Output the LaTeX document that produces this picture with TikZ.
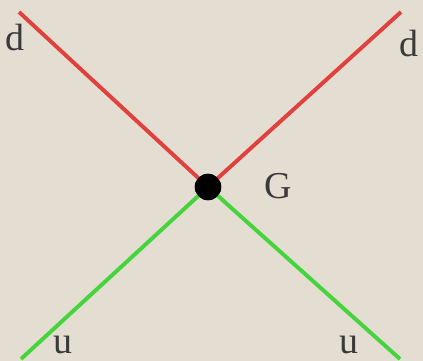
\documentclass[tikz,border=0pt]{standalone}
\usepackage{fontspec}
\setmainfont{Liberation Serif}
\usepackage{xcolor}
\usetikzlibrary{positioning}

\definecolor{paper}{HTML}{E4DED2}
\definecolor{quarkred}{HTML}{E0403E}
\definecolor{quarkgreen}{HTML}{46D43C}
\definecolor{labelgray}{HTML}{3A3A3A}

\begin{document}
\begin{tikzpicture}[
  x=0.025cm, y=-0.025cm,
  vertex/.style={circle, fill=black, inner sep=0pt, minimum size=0.66cm},
  dline/.style={quarkred, line width=2.8pt},
  uline/.style={quarkgreen, line width=2.8pt},
  lbl/.style={text=labelgray, font=\fontsize{27}{30}\selectfont, inner sep=0pt},
]
  \fill[paper] (0,0) rectangle (423,361);
  \useasboundingbox (0,0) rectangle (423,361);

  \coordinate (DL) at (19,12);
  \coordinate (DR) at (401,12);
  \coordinate (UL) at (21,359);
  \coordinate (UR) at (400,359);
  \node[vertex] (V) at (208,187) {};

  \draw[dline] (DL) -- (V.center);
  \draw[dline] (DR) -- (V.center);
  \draw[uline] (UL) -- (V.center);
  \draw[uline] (UR) -- (V.center);
  \node[vertex] at (V) {};

  \node[lbl] (dl) at (15,38) {d};
  \node[lbl] (dr) at (409,44) {d};
  \node[lbl] (g) at (278,186) {G};
  \node[lbl] (ul) at (63,345) {u};
  \node[lbl] (ur) at (349,345) {u};
\end{tikzpicture}
\end{document}
